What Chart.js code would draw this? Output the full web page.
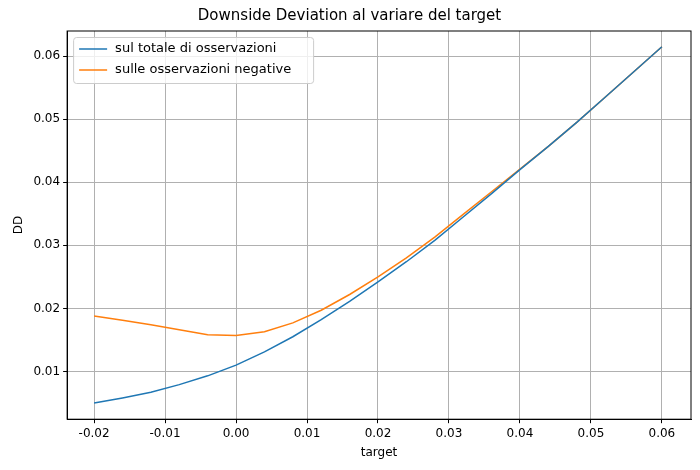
<!DOCTYPE html>
<html><head><meta charset="utf-8">
<script src="https://cdn.jsdelivr.net/npm/chart.js@4"></script>
<style>body{margin:0;background:#fff}#w{position:absolute;left:0;top:0;width:700px;height:470px}</style>
</head><body><div id="w"><canvas id="c"></canvas></div>
<script>
const targets=[-0.02,-0.016,-0.012,-0.008,-0.004,0,0.004,0.008,0.012,0.016,0.02,0.024,0.028,0.032,0.036,0.04,0.044,0.048,0.052,0.056,0.06];
const ddTotal=[0.005,0.0058,0.0067,0.0079,0.0093,0.011,0.0131,0.0155,0.0182,0.0211,0.0242,0.0274,0.0308,0.0345,0.0382,0.042,0.0457,0.0495,0.0535,0.0575,0.0615];
const ddNeg=[0.0188,0.0181,0.0174,0.0166,0.0158,0.0157,0.0163,0.0177,0.0197,0.0222,0.025,0.028,0.0313,0.0349,0.0385,0.0421,0.0457,0.0495,0.0535,0.0575,0.0615];
const xTicks=[-0.02,-0.01,0,0.01,0.02,0.03,0.04,0.05,0.06];
const F='DejaVu Sans';
Chart.defaults.font.family=F;Chart.defaults.color='#000';
new Chart(document.getElementById('c'),{type:'line',
data:{datasets:[
{label:'sul totale di osservazioni',data:targets.map((x,i)=>({x,y:ddTotal[i]})),borderColor:'#1f77b4',backgroundColor:'#1f77b4',borderWidth:1.5,pointRadius:0,tension:0},
{label:'sulle osservazioni negative',data:targets.map((x,i)=>({x,y:ddNeg[i]})),borderColor:'#ff7f0e',backgroundColor:'#ff7f0e',borderWidth:1.5,pointRadius:0,tension:0}]},
options:{responsive:true,maintainAspectRatio:false,animation:false,
layout:{padding:{left:8,right:9,top:0,bottom:10}},
plugins:{title:{display:true,text:'Downside Deviation al variare del target',font:{size:15,weight:'normal'},padding:{top:7,bottom:6}},
legend:{display:false},tooltip:{enabled:false}},
scales:{x:{type:'linear',min:-0.0238,max:0.0641,afterBuildTicks:a=>{a.ticks=xTicks.map(v=>({value:v}))},
ticks:{font:{size:12},callback:v=>v.toFixed(2),maxRotation:0,padding:3},grid:{color:'#b0b0b0',tickColor:'#000',tickLength:4},border:{color:'#000'},
title:{display:true,text:'target',font:{size:12},padding:{top:2,bottom:0}}},
y:{min:0.00242,max:0.064,afterBuildTicks:a=>{a.ticks=[0.01,0.02,0.03,0.04,0.05,0.06].map(v=>({value:v}))},
ticks:{font:{size:12},callback:v=>v.toFixed(2),padding:3},grid:{color:'#b0b0b0',tickColor:'#000',tickLength:4},border:{color:'#000'},
title:{display:true,text:'DD',font:{size:12}}}}},
plugins:[{id:'leg',afterDraw(ch){const c=ch.ctx,a=ch.chartArea;c.save();
c.strokeStyle='#000';c.lineWidth=1;c.strokeRect(a.left,a.top,a.right-a.left,a.bottom-a.top);
const x=a.left+6,y=a.top+6;
c.fillStyle='rgba(255,255,255,0.8)';c.strokeStyle='#ccc';c.beginPath();c.roundRect(x+0.5,y+0.5,240,46,3);c.fill();c.stroke();
c.font='13px '+F;c.textBaseline='middle';c.fillStyle='#000';
ch.data.datasets.forEach((d,i)=>{const yy=y+12+i*21;c.strokeStyle=d.borderColor;c.lineWidth=1.5;c.beginPath();c.moveTo(x+6,yy);c.lineTo(x+34,yy);c.stroke();c.fillText(d.label,x+42,yy);});
c.restore();}}]});
</script></body></html>
